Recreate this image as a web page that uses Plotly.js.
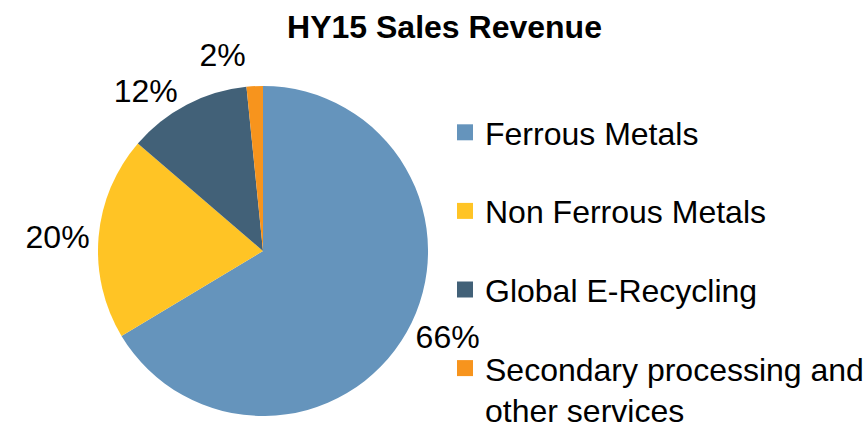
<!DOCTYPE html>
<html><head><meta charset="utf-8">
<script src="https://cdn.plot.ly/plotly-3.0.1.min.js"></script>
<style>html,body{margin:0;padding:0;background:#fff}#chart{width:867px;height:432px}
path.textline{display:none !important}</style>
</head><body><div id="chart"></div>
<script>
const chartTitle = 'HY15 Sales Revenue';
const categories = ['Ferrous Metals', 'Non Ferrous Metals', 'Global E-Recycling', 'Secondary processing and<br>other services'];
const shares = [66.4, 19.9, 12.1, 1.6];
const colors = ['#6594BC', '#FFC425', '#426178', '#F7941D'];
const FONT = 'Liberation Sans, Arial, sans-serif';

const traces = [{
  type: 'pie',
  labels: categories,
  values: shares,
  sort: false,
  direction: 'clockwise',
  rotation: 0,
  marker: {colors: colors, line: {width: 0}},
  textposition: 'outside',
  texttemplate: '%{percent:.0%}',
  textfont: {family: FONT, size: 32, color: '#000'},
  showlegend: false,
  hoverinfo: 'label+percent',
  domain: {x: [0.113, 0.4937], y: [0.037, 0.801]}
}];
categories.forEach((c, i) => {
  traces.push({
    type: 'scatter', mode: 'markers', x: [null], y: [null],
    name: c, legendgroup: 'g' + i,
    marker: {symbol: 'square', size: 17, color: colors[i]},
    showlegend: true, hoverinfo: 'skip'
  });
});

const layout = {
  width: 867, height: 432,
  margin: {l: 0, r: 0, t: 0, b: 0, autoexpand: false},
  paper_bgcolor: '#fff', plot_bgcolor: '#fff',
  title: {text: '<b>' + chartTitle + '</b>', font: {family: FONT, size: 32, color: '#000'},
          x: 0.5127, xanchor: 'center', y: 1 - 27/432, yanchor: 'middle', yref: 'container'},
  xaxis: {visible: false}, yaxis: {visible: false},
  showlegend: true,
  legend: {x: 445/867, xanchor: 'left', y: 1 - 105/432, yanchor: 'top',
           font: {family: FONT, size: 32, color: '#000'},
           valign: 'top', tracegroupgap: 34, traceorder: 'grouped', bgcolor: 'rgba(0,0,0,0)'}
};
Plotly.newPlot('chart', traces, layout, {displayModeBar: false, staticPlot: true});
</script></body></html>
